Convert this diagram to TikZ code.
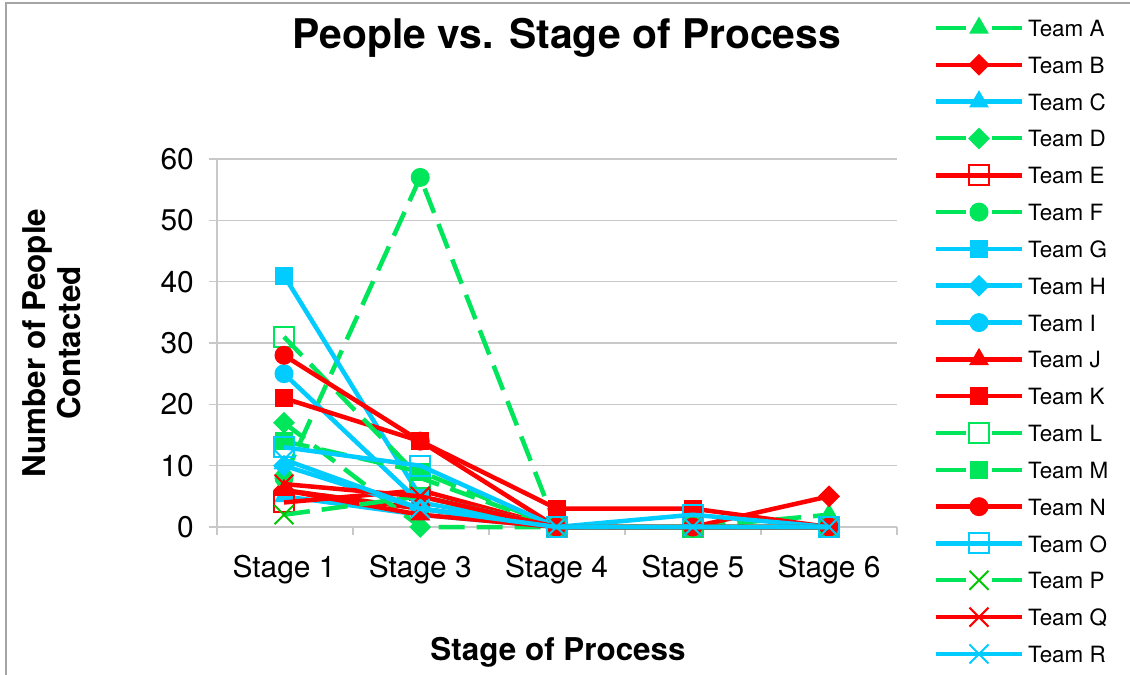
\documentclass[tikz,border=0pt]{standalone}
\usepackage{fontspec}
\setmainfont{TeX Gyre Heros}
\usetikzlibrary{shapes.geometric,shapes.misc}
\definecolor{tgreen}{RGB}{0,230,90}
\definecolor{tred}{RGB}{255,0,0}
\definecolor{tcyan}{RGB}{0,204,255}
\definecolor{pgreen}{RGB}{0,200,0}
\definecolor{gridgray}{RGB}{200,200,200}
\definecolor{framegray}{RGB}{165,165,165}
\tikzset{
 solidline/.style={line width=4.5bp, line join=round},
 dashline/.style={line width=4.5bp, dash pattern=on 26bp off 12bp},
 mtri/.style={regular polygon, regular polygon sides=3, minimum size=23bp, inner sep=0pt, fill=#1},
 mdia/.style={diamond, minimum size=22bp, inner sep=0pt, fill=#1},
 msq/.style={rectangle, minimum size=18bp, inner sep=0pt, fill=#1},
 mosq/.style={rectangle, minimum size=20bp, inner sep=0pt, draw=#1, line width=2bp},
 mcirc/.style={circle, minimum size=19bp, inner sep=0pt, fill=#1},
 mx/.style={cross out, minimum size=17bp, inner sep=0pt, draw=#1, line width=2bp},
 lA/.style={dashline,draw=tgreen}, kA/.style={mtri=tgreen},
 lB/.style={solidline,draw=tred}, kB/.style={mdia=tred},
 lC/.style={solidline,draw=tcyan}, kC/.style={mtri=tcyan},
 lD/.style={dashline,draw=tgreen}, kD/.style={mdia=tgreen},
 lE/.style={solidline,draw=tred}, kE/.style={mosq=tred},
 lF/.style={dashline,draw=tgreen}, kF/.style={mcirc=tgreen},
 lG/.style={solidline,draw=tcyan}, kG/.style={msq=tcyan},
 lH/.style={solidline,draw=tcyan}, kH/.style={mdia=tcyan},
 lI/.style={solidline,draw=tcyan}, kI/.style={mcirc=tcyan},
 lJ/.style={solidline,draw=tred}, kJ/.style={mtri=tred},
 lK/.style={solidline,draw=tred}, kK/.style={msq=tred},
 lL/.style={dashline,draw=tgreen}, kL/.style={mosq=tgreen},
 lM/.style={dashline,draw=tgreen}, kM/.style={msq=tgreen},
 lN/.style={solidline,draw=tred}, kN/.style={mcirc=tred},
 lO/.style={solidline,draw=tcyan}, kO/.style={mosq=tcyan},
 lP/.style={dashline,draw=tgreen}, kP/.style={mx=pgreen},
 lQ/.style={solidline,draw=tred}, kQ/.style={mx=tred},
 lR/.style={solidline,draw=tcyan}, kR/.style={mx=tcyan},
 ticklab/.style={font=\fontsize{30}{36}\selectfont, inner sep=0pt},
 legtext/.style={font=\fontsize{22.5}{27}\selectfont, anchor=west, inner sep=0pt},
 gridline/.style={draw=gridgray, line width=1.3bp},
}
\newcommand\teamseries[2]{%
 \foreach \v [count=\i] in {#2} {\coordinate (#1\i) at ({147.75+136.25*\i},\v);}
 \draw[l#1] (#11) -- (#12) -- (#13) -- (#14) -- (#15);
 \foreach \i in {1,...,5} {\node[k#1] (m#1\i) at (#1\i) {};}
}
\begin{document}
\begin{tikzpicture}[x=1bp,y=-1bp]
\useasboundingbox (0,0) rectangle (1130,675);
\fill[white] (0,0) rectangle (1130,675);
% frame
\coordinate (fa) at (6,675);
\coordinate (fb) at (6,3);
\coordinate (fc) at (1130,3);
\draw[framegray, line width=1.5bp] (fa) -- (fb) -- (fc);
% title
\node[font=\bfseries\fontsize{41}{48}\selectfont, anchor=base, inner sep=0pt] (title) at (567,49) {People vs. Stage of Process};
\node[font=\bfseries\fontsize{31.5}{36}\selectfont, anchor=base, inner sep=0pt] (xtitle) at (558,660) {Stage of Process};
\node[font=\bfseries\fontsize{31.5}{35}\selectfont, rotate=90, align=center, inner sep=0pt] (ytitle) at (52,343) {Number of People\\Contacted};
% plot
\begin{scope}[shift={(0,527)}, y={(0bp,6.133bp)}]
 \foreach \g in {0,10,...,60} {
   \coordinate (gl\g) at (209,\g);
   \coordinate (gr\g) at (897,\g);
   \draw[gridline] (gl\g) -- (gr\g);
   \node[ticklab, anchor=east] (tl\g) at (194,\g) {\g};
 }
 \coordinate (ya) at (217,0);
 \coordinate (yb) at (217,60);
 \draw[gridline] (ya) -- (yb);
 \foreach \j in {0,...,5} {
   \coordinate (xt\j) at ({217+136*\j},0);
   \draw[gridline] (xt\j) -- ++(0bp,-8bp);
 }
 \foreach \s [count=\i] in {1,3,4,5,6} {
   \coordinate (cl\i) at ({147.75+136.25*\i},0);
   \node[ticklab, anchor=base] (clab\i) at ([yshift=-50bp]cl\i) {Stage \s};
 }
 \teamseries{A}{6,3,0,0,2}
 \teamseries{B}{6,3,0,0,5}
 \teamseries{C}{5,2,0,0,0}
 \teamseries{D}{17,0,0,0,0}
 \teamseries{E}{4,6,0,0,0}
 \teamseries{F}{8,57,0,0,0}
 \teamseries{G}{41,5,0,0,0}
 \teamseries{H}{10,3,0,0,0}
 \teamseries{I}{25,4,0,0,0}
 \teamseries{J}{6,2,0,0,0}
 \teamseries{K}{21,14,3,3,0}
 \teamseries{L}{31,8,0,0,0}
 \teamseries{M}{14,9,0,0,0}
 \teamseries{N}{28,14,0,0,0}
 \teamseries{O}{13,10,0,2,0}
 \teamseries{P}{2,5,0,0,0}
 \teamseries{Q}{7,5,0,0,0}
 \teamseries{R}{11,3,0,0,0}
\end{scope}
% legend
\foreach \t/\d [count=\k from 0] in {A/1,B/0,C/0,D/1,E/0,F/1,G/0,H/0,I/0,J/0,K/0,L/1,M/1,N/0,O/0,P/1,Q/0,R/0} {
  \coordinate (la\t) at (936,{28+36.82*\k});
  \coordinate (lb\t) at (1022,{28+36.82*\k});
  \coordinate (lm\t) at (979,{28+36.82*\k});
  \ifnum\d=1
    \draw[l\t, solid, line width=4bp] (la\t) -- ++(30,0);
    \draw[l\t, solid, line width=4bp] (lb\t) -- ++(-30,0);
  \else
    \draw[l\t] (la\t) -- (lb\t);
  \fi
  \node[k\t] (lk\t) at (lm\t) {};
  \node[legtext] (lt\t) at (1028,{28.5+36.82*\k}) {Team \t};
}
\end{tikzpicture}
\end{document}
